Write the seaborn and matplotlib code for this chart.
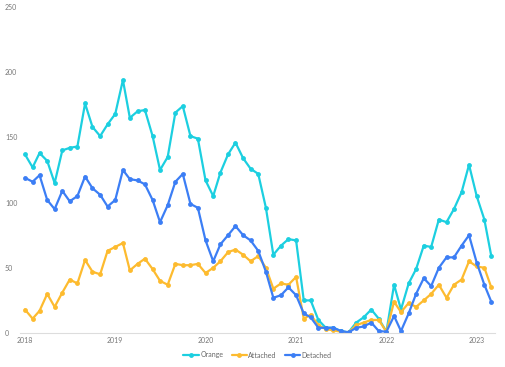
import numpy as np
import pandas as pd
import matplotlib
matplotlib.use("Agg")
import matplotlib.pyplot as plt
import matplotlib.dates as mdates
import seaborn as sns

# Monthly counts, Jan 2018 - Mar 2023
months = pd.date_range("2018-01-01", periods=63, freq="MS")

orange = [137, 127, 138, 132, 115, 140, 142, 143, 176, 158, 151, 160,
          168, 194, 165, 170, 171, 151, 125, 135, 169, 174, 151, 149,
          117, 105, 123, 137, 146, 134, 126, 122, 96, 60, 67, 72,
          71, 25, 25, 10, 4, 4, 1.5, 0.5, 8, 12, 18, 11,
          1, 37, 18, 38, 49, 67, 66, 87, 85, 95, 108, 129,
          105, 87, 59]
attached = [18, 11, 17, 30, 20, 31, 41, 38, 56, 47, 45, 63,
            66, 69, 48, 53, 57, 49, 40, 37, 53, 52, 52, 53,
            46, 50, 55, 62, 64, 60, 55, 59, 50, 34, 38, 37,
            43, 11, 14, 6, 3, 2, 1, 0.5, 6, 8, 10, 10,
            1, 24, 16, 23, 20, 25, 30, 37, 27, 37, 41, 55,
            51, 50, 35]
detached = [119, 116, 121, 102, 95, 109, 101, 105, 120, 111, 106, 97,
            102, 125, 118, 117, 114, 102, 85, 98, 116, 122, 99, 96,
            71, 55, 68, 75, 82, 75, 71, 63, 47, 27, 29, 35,
            29, 15, 12, 4, 4, 4, 1.5, 0.5, 4, 5, 8, 1.5,
            1, 13, 1.5, 15, 30, 42, 36, 50, 58, 58, 67, 75,
            54, 37, 24]

series_names = ["Orange", "Attached", "Detached"]
colors = ["#1ccfe0", "#fdbb2f", "#3c7ef5"]

df = pd.DataFrame({"month": months, "Orange": orange,
                   "Attached": attached, "Detached": detached})
long_df = df.melt(id_vars="month", var_name="series", value_name="count")

sns.set_style("white")
plt.rcParams["font.family"] = ["Lato", "DejaVu Sans"]

fig = plt.figure(figsize=(5.05, 3.67), dpi=100)
ax = fig.add_axes([20 / 505, 1 - 333 / 367, 475 / 505, 326 / 367])

sns.lineplot(data=long_df, x="month", y="count", hue="series",
             hue_order=series_names, palette=colors, marker="o",
             markersize=3.5, markeredgewidth=0, linewidth=1.6, ax=ax)

ax.set_ylim(0, 250)
ax.set_yticks([0, 50, 100, 150, 200, 250])
ax.set_xlim(months[0] - pd.Timedelta(days=20), months[-1] + pd.Timedelta(days=15))
ax.xaxis.set_major_locator(mdates.YearLocator())
ax.xaxis.set_major_formatter(mdates.DateFormatter("%Y"))
ax.set_xlabel("")
ax.set_ylabel("")

for side in ["top", "right", "left"]:
    ax.spines[side].set_visible(False)
ax.spines["bottom"].set_color("#dddddd")
ax.spines["bottom"].set_linewidth(0.8)
ax.tick_params(axis="both", length=0, labelsize=5, labelcolor="#777777", pad=3)
ax.tick_params(axis="y", pad=0)
for lbl in ax.get_yticklabels():
    lbl.set_horizontalalignment("left")
    lbl.set_x(-15 / 475)

handles, labels = ax.get_legend_handles_labels()
ax.legend_.remove()
fig.legend(handles, labels, loc="center", bbox_to_anchor=(0.51, 1 - 355 / 367),
           ncol=3, frameon=False, fontsize=5, labelcolor="#666666",
           handlelength=2.2, columnspacing=1.2, handletextpad=0.2)

plt.savefig("out.png", dpi=100)
